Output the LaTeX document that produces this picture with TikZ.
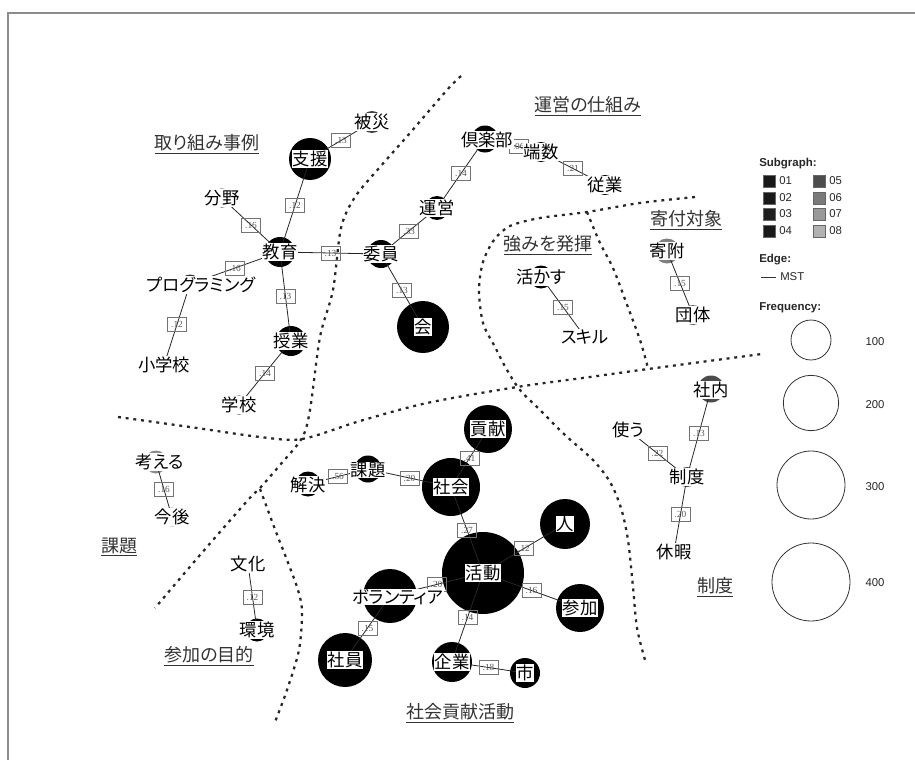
\documentclass[tikz,border=0pt]{standalone}
\usepackage{fontspec}
\newfontfamily\jpf[RawFeature=+palt]{Noto Sans CJK JP}
\newfontfamily\lgdf{Liberation Sans}
\newfontfamily\wtf{Liberation Serif}
\begin{document}
\begin{tikzpicture}[x=0.75pt,y=-0.75pt,
  term/.style={circle,inner sep=0pt,outer sep=0pt,fill=#1},
  sz/.style={minimum size={0.75pt*#1}},
  lbl/.style={fill=white,inner sep=0.5pt,font=\jpf\fontsize{13}{13}\selectfont,text=black},
  region/.style={inner sep=1pt,font=\jpf\fontsize{13.5}{14}\selectfont,text=black!80},
  wbox/.style={draw=black!55,line width=0.5pt,inner sep=0pt,minimum width=14.5pt,minimum height=10.5pt,font=\wtf\fontsize{7}{7}\selectfont,text=black!65},
  link/.style={line width=0.6pt,draw=black!85},
  divider/.style={line width=1.7pt,dash pattern=on 2.2pt off 3.6pt,draw=black!85},
  legsq/.style={draw=black!60,line width=0.3pt,minimum size=9pt,inner sep=0pt},
  legtxt/.style={anchor=west,inner sep=0pt,font=\lgdf\fontsize{8.5}{9}\selectfont,text=black!85},
  leghead/.style={anchor=west,inner sep=0pt,font=\lgdf\bfseries\fontsize{8.6}{9}\selectfont,text=black!85},
  legcirc/.style={circle,draw=black!80,line width=0.6pt,inner sep=0pt}]
\useasboundingbox (0,0) rectangle (915,760);
% frame
\draw[black!45,line width=0.8pt] (8,760) -- (8,13) -- (915,13);
% dividing dotted lines
\draw[divider] plot[smooth,tension=0.5] coordinates {(461,76) (447,90) (410,133) (380,167) (355,197) (341,228) (333,290) (320,337) (310,410) (302,438) (280,465) (260,488) (248,500) (200,555) (155,608)};
\draw[divider] plot[smooth,tension=0.5] coordinates {(118,417) (190,427) (260,437) (302,439) (360,421) (427,403) (517,387) (590,377) (648,369) (762,354)};
\draw[divider] plot[smooth,tension=0.5] coordinates {(260,489) (266,505) (276,532) (287,560) (298,590) (302,612) (299,650) (287,690) (275,722)};
\draw[divider] plot[smooth,tension=0.5] coordinates {(695,197) (640,203) (587,212) (540,218) (510,226) (494,240) (483,262) (479,290) (483,323) (495,347) (507,370) (520,390) (540,410) (565,435) (593,460) (610,482) (621,508) (628,540) (633,587) (637,628) (645,660)};
\draw[divider] plot[smooth,tension=0.5] coordinates {(587,212) (600,243) (613,268) (626,302) (640,340) (648,368)};
% term circles (sz = diameter in px)
\node[term=black!75,sz=22] (hisai) at (372,122) {};
\node[term=black,sz=42] (shien) at (310,159) {};
\node[term=black,sz=19] (bunya) at (222,198) {};
\node[term=black,sz=30] (kyoiku) at (280,252) {};
\node[term=black,sz=28] (iin) at (381,254) {};
\node[term=black!80,sz=19] (prog) at (190,284) {};
\coordinate (shogakko) at (164,365);
\node[term=black,sz=30] (jugyo) at (291,341) {};
\node[term=black,sz=19] (gakko) at (239,405) {};
\node[term=black,sz=52] (kai) at (423,327) {};
\node[term=black,sz=24] (unei) at (437,208) {};
\node[term=black,sz=27] (club) at (485,139) {};
\node[term=black,sz=20] (hasu) at (541,152) {};
\node[term=black,sz=20] (jugyoin) at (605,185) {};
\node[term=black,sz=23] (ikasu) at (541,277) {};
\coordinate (skill) at (585,337);
\node[term=black!50,sz=25] (kifu) at (667,251) {};
\node[term=black!60,sz=20] (dantai) at (693,315) {};
\node[term=black!70,sz=27] (shanai) at (711,389) {};
\coordinate (tsukau) at (628,430);
\node[term=black!70,sz=20] (seido) at (687,477) {};
\coordinate (kyuka) at (674,552);
\node[term=black!45,sz=23] (kangaeru) at (156,462) {};
\node[term=black!45,sz=19] (kongo) at (172,517) {};
\coordinate (bunka) at (248,564);
\node[term=black,sz=23] (kankyo) at (257,630) {};
\node[term=black,sz=25] (kaiketsu) at (308,484) {};
\node[term=black,sz=27] (kadai) at (368,469) {};
\node[term=black,sz=48] (koken) at (488,429) {};
\node[term=black,sz=58] (shakai) at (451,487) {};
\node[term=black,sz=82] (katsudo) at (483,573) {};
\node[term=black,sz=50] (hito) at (565,524) {};
\node[term=black,sz=48] (sanka) at (580,608) {};
\node[term=black,sz=54] (volunteer) at (390,596) {};
\node[term=black,sz=54] (shain) at (345,660) {};
\node[term=black,sz=40] (kigyo) at (452,662) {};
\node[term=black,sz=30] (shi) at (525,673) {};
% edges
\draw[link] (hisai.center) -- node[wbox]{.13} (shien.center);
\draw[link] (shien.center) -- node[wbox]{.12} (kyoiku.center);
\draw[link] (bunya.center) -- node[wbox]{.16} (kyoiku.center);
\draw[link] (kyoiku.center) -- node[wbox]{.13} (iin.center);
\draw[link] (kyoiku.center) -- node[wbox]{.16} (prog.center);
\draw[link] (prog.center) -- node[wbox]{.12} (shogakko);
\draw[link] (kyoiku.center) -- node[wbox]{.13} (jugyo.center);
\draw[link] (jugyo.center) -- node[wbox]{.14} (gakko.center);
\draw[link] (iin.center) -- node[wbox]{.33} (unei.center);
\draw[link] (unei.center) -- node[wbox]{.14} (club.center);
\draw[link] (club.center) -- node[wbox,pos=0.6]{.06} (hasu.center);
\draw[link] (hasu.center) -- node[wbox]{.21} (jugyoin.center);
\draw[link] (iin.center) -- node[wbox]{.13} (kai.center);
\draw[link] (ikasu.center) -- node[wbox]{.15} (skill);
\draw[link] (kifu.center) -- node[wbox]{.15} (dantai.center);
\draw[link] (shanai.center) -- node[wbox]{.13} (seido.center);
\draw[link] (tsukau) -- node[wbox]{.22} (seido.center);
\draw[link] (seido.center) -- node[wbox]{.20} (kyuka);
\draw[link] (kangaeru.center) -- node[wbox]{.16} (kongo.center);
\draw[link] (bunka) -- node[wbox]{.12} (kankyo.center);
\draw[link] (kaiketsu.center) -- node[wbox]{.56} (kadai.center);
\draw[link] (kadai.center) -- node[wbox]{.20} (shakai.center);
\draw[link] (shakai.center) -- node[wbox]{.41} (koken.center);
\draw[link] (shakai.center) -- node[wbox]{.27} (katsudo.center);
\draw[link] (katsudo.center) -- node[wbox]{.12} (hito.center);
\draw[link] (katsudo.center) -- node[wbox]{.16} (sanka.center);
\draw[link] (katsudo.center) -- node[wbox]{.20} (volunteer.center);
\draw[link] (volunteer.center) -- node[wbox]{.15} (shain.center);
\draw[link] (katsudo.center) -- node[wbox]{.14} (kigyo.center);
\draw[link] (kigyo.center) -- node[wbox]{.18} (shi.center);
% term labels
\node[lbl] (hisai-t) at (372,122) {被災};
\node[lbl] (shien-t) at (310,159) {支援};
\node[lbl] (bunya-t) at (222,198) {分野};
\node[lbl] (kyoiku-t) at (280,252) {教育};
\node[lbl] (iin-t) at (381,254) {委員};
\node[lbl] (prog-t) at (201,285) {プログラミング};
\node[lbl] (shogakko-t) at (164,365) {小学校};
\node[lbl] (jugyo-t) at (291,341) {授業};
\node[lbl] (gakko-t) at (239,405) {学校};
\node[lbl] (kai-t) at (423,327) {会};
\node[lbl] (unei-t) at (437,208) {運営};
\node[lbl] (club-t) at (487,140) {倶楽部};
\node[lbl] (hasu-t) at (541,152) {端数};
\node[lbl] (jugyoin-t) at (605,185) {従業};
\node[lbl] (ikasu-t) at (541,277) {活かす};
\node[lbl] (skill-t) at (585,337) {スキル};
\node[lbl] (kifu-t) at (667,251) {寄附};
\node[lbl] (dantai-t) at (693,315) {団体};
\node[lbl] (shanai-t) at (711,390) {社内};
\node[lbl] (tsukau-t) at (628,430) {使う};
\node[lbl] (seido-t) at (687,477) {制度};
\node[lbl] (kyuka-t) at (674,552) {休暇};
\node[lbl] (kangaeru-t) at (160,462) {考える};
\node[lbl] (kongo-t) at (172,517) {今後};
\node[lbl] (bunka-t) at (248,564) {文化};
\node[lbl] (kankyo-t) at (257,630) {環境};
\node[lbl] (kaiketsu-t) at (308,485) {解決};
\node[lbl] (kadai-t) at (368,470) {課題};
\node[lbl] (koken-t) at (488,429) {貢献};
\node[lbl] (shakai-t) at (451,487) {社会};
\node[lbl] (katsudo-t) at (483,573) {活動};
\node[lbl] (hito-t) at (565,524) {人};
\node[lbl] (sanka-t) at (580,608) {参加};
\node[lbl] (volunteer-t) at (398,597) {ボランティア};
\node[lbl] (shain-t) at (345,660) {社員};
\node[lbl] (kigyo-t) at (452,662) {企業};
\node[lbl] (shi-t) at (525,673) {市};
% region labels
\node[region] (r1) at (207,144) {\underline{取り組み事例}};
\node[region] (r2) at (588,106) {\underline{運営の仕組み}};
\node[region] (r3) at (686,220) {\underline{寄付対象}};
\node[region] (r4) at (548,245) {\underline{強みを発揮}};
\node[region] (r5) at (119,547) {\underline{課題}};
\node[region] (r6) at (209,656) {\underline{参加の目的}};
\node[region] (r7) at (460,713) {\underline{社会貢献活動}};
\node[region] (r8) at (715,587) {\underline{制度}};
% legend
\node[leghead] (lg-sub) at (759,164) {Subgraph:};
\node[legsq,fill=black!90] (sq1) at (769,181) {};
\node[legsq,fill=black!90] (sq2) at (769,198) {};
\node[legsq,fill=black!88] (sq3) at (769,214) {};
\node[legsq,fill=black!90] (sq4) at (769,231) {};
\node[legsq,fill=black!70] (sq5) at (819,181) {};
\node[legsq,fill=black!52] (sq6) at (819,198) {};
\node[legsq,fill=black!40] (sq7) at (819,214) {};
\node[legsq,fill=black!30] (sq8) at (819,231) {};
\node[legtxt] (t1) at (779,181) {01};
\node[legtxt] (t2) at (779,198) {02};
\node[legtxt] (t3) at (779,214) {03};
\node[legtxt] (t4) at (779,231) {04};
\node[legtxt] (t5) at (829,181) {05};
\node[legtxt] (t6) at (829,198) {06};
\node[legtxt] (t7) at (829,214) {07};
\node[legtxt] (t8) at (829,231) {08};
\node[leghead] (lg-edge) at (759,260) {Edge:};
\coordinate (mst-a) at (761,277);
\coordinate (mst-b) at (776,277);
\draw[black!80,line width=0.7pt] (mst-a) -- (mst-b);
\node[legtxt] (lg-mst) at (780,277) {MST};
\node[leghead] (lg-freq) at (759,308) {Frequency:};
\node[legcirc,minimum size=30pt] (f100) at (811,340) {};
\node[legcirc,minimum size=41.5pt] (f200) at (811,403) {};
\node[legcirc,minimum size=51pt] (f300) at (811,485) {};
\node[legcirc,minimum size=58.5pt] (f400) at (811,582) {};
\node[legtxt,anchor=center] (n100) at (875,342) {100};
\node[legtxt,anchor=center] (n200) at (875,405) {200};
\node[legtxt,anchor=center] (n300) at (875,487) {300};
\node[legtxt,anchor=center] (n400) at (875,583) {400};
\end{tikzpicture}
\end{document}
